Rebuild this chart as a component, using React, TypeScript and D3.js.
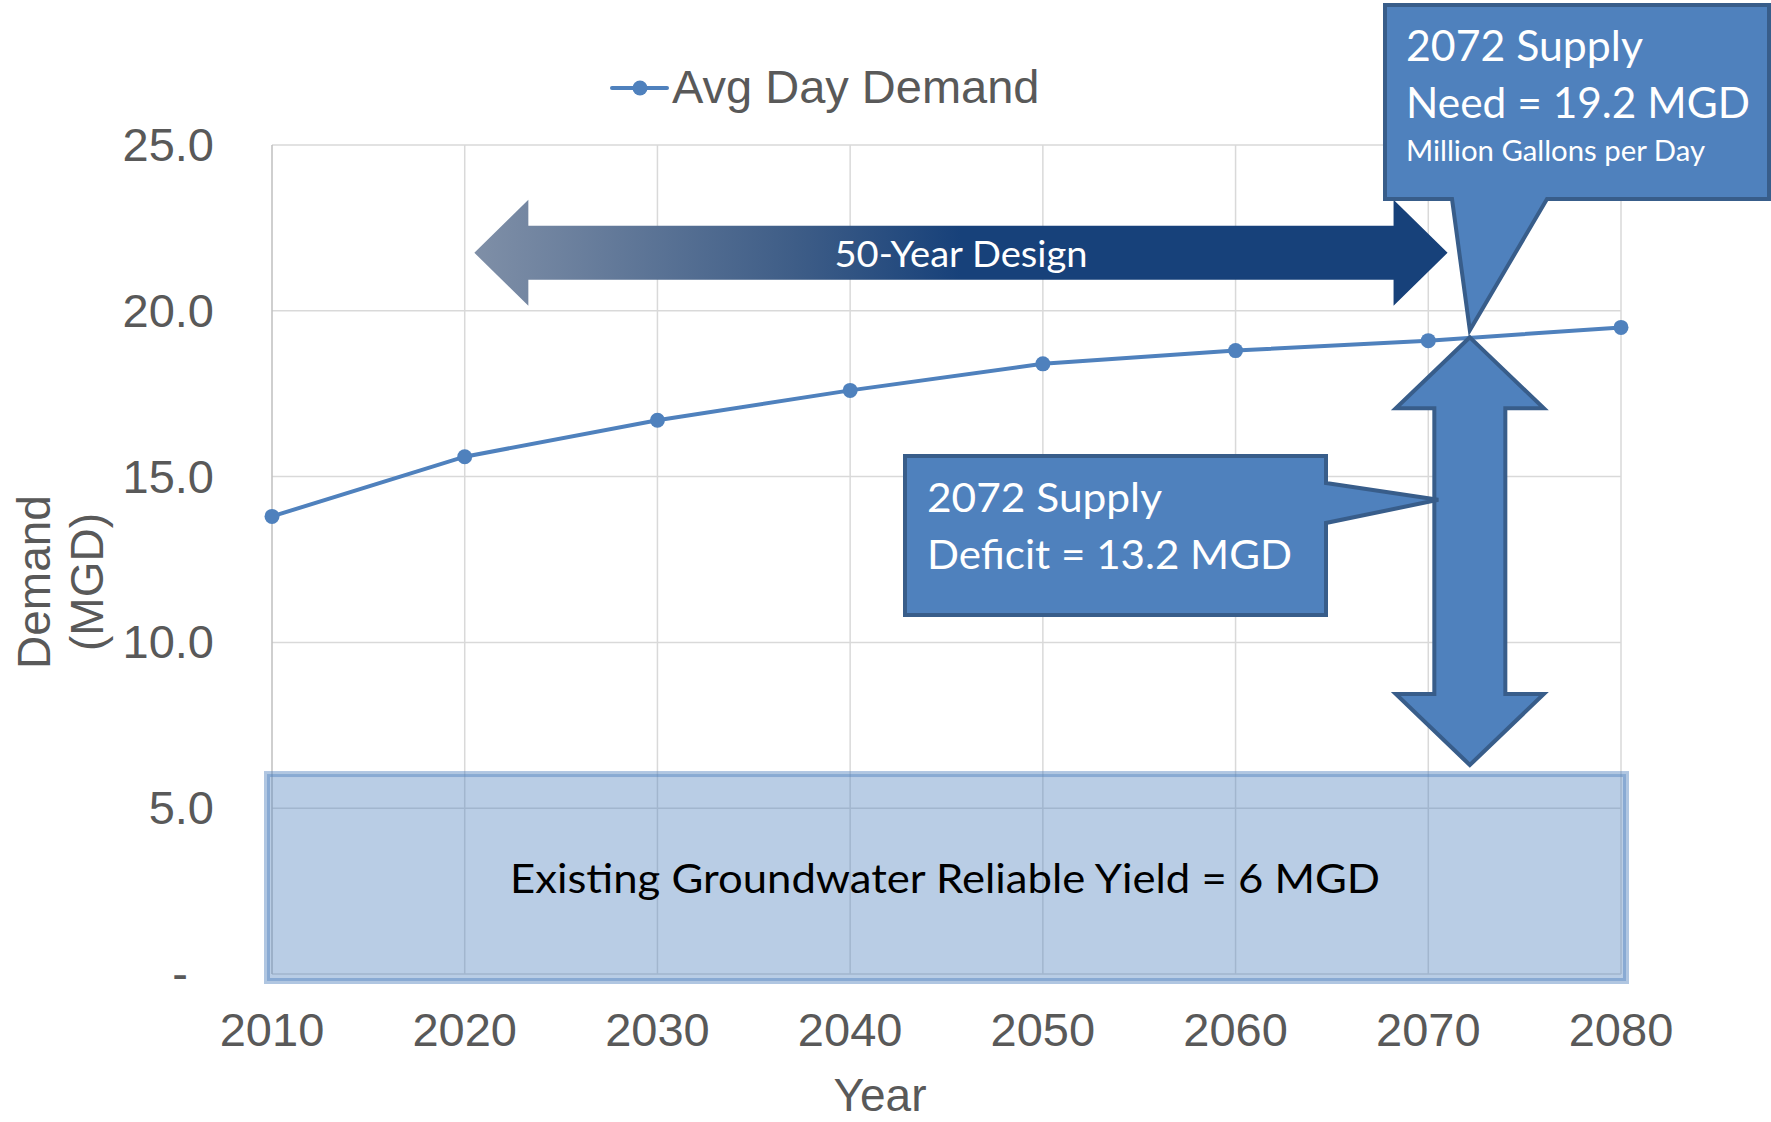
import React, { useEffect, useRef } from "react";
import * as d3 from "d3";

// chart data
const years: number[] = [2010, 2020, 2030, 2040, 2050, 2060, 2070, 2080];
const avgDayDemand: number[] = [13.8, 15.6, 16.7, 17.6, 18.4, 18.8, 19.1, 19.5];
const yTicks: number[] = [0, 5, 10, 15, 20, 25];
const yTickLabels: string[] = ["-", "5.0", "10.0", "15.0", "20.0", "25.0"];

// annotations
const groundwaterYield = 6;
const designSpan: number[] = [2020.5, 2071];
const designLevel = 21.75;
const supplyYear = 2072;
const supplyNeed = 19.2;
const deficitPointerLevel = 14.3;

const width = 1771;
const height = 1122;
const axisFont = "'Liberation Sans', Arial, sans-serif";
const noteFont = "Lato, 'Open Sans', sans-serif";
const blue = "#4f81bd";
const blueEdge = "#385d8a";

const App = () => {
  const ref = useRef<any>(null);

  useEffect(() => {
    document.body.style.margin = "0";
    var svg = d3.select(ref.current);
    svg.selectAll("*").remove();

    var x = d3.scaleLinear().domain([2010, 2080]).range([272, 1621]);
    var y = d3.scaleLinear().domain([0, 25]).range([974, 145]);

    var defs = svg.append("defs");
    var grad = defs
      .append("linearGradient")
      .attr("id", "designGrad")
      .attr("x1", "0%")
      .attr("x2", "100%");
    grad.append("stop").attr("offset", "0%").attr("stop-color", "#7f8fa7");
    grad.append("stop").attr("offset", "33%").attr("stop-color", "#3e5d87");
    grad.append("stop").attr("offset", "50%").attr("stop-color", "#17417a");
    grad.append("stop").attr("offset", "100%").attr("stop-color", "#17417a");

    // gridlines
    svg
      .selectAll(".hgrid")
      .data(yTicks)
      .enter()
      .append("line")
      .attr("x1", x(2010))
      .attr("x2", x(2080))
      .attr("y1", (d) => y(d))
      .attr("y2", (d) => y(d))
      .style("stroke", "#d9d9d9")
      .style("stroke-width", 1.5);

    svg
      .selectAll(".vgrid")
      .data(years)
      .enter()
      .append("line")
      .attr("x1", (d) => x(d))
      .attr("x2", (d) => x(d))
      .attr("y1", y(25))
      .attr("y2", y(0))
      .style("stroke", (d, i) => (i === 0 ? "#bfbfbf" : "#d9d9d9"))
      .style("stroke-width", 1.5);

    // tick labels
    svg
      .selectAll(".ylab")
      .data(yTicks)
      .enter()
      .append("text")
      .attr("x", (d) => (d === 0 ? 188 : 214))
      .attr("y", (d) => y(d) + 16)
      .attr("text-anchor", "end")
      .style("font-family", axisFont)
      .style("font-size", "47px")
      .style("fill", "#595959")
      .text((d, i) => yTickLabels[i]);

    svg
      .selectAll(".xlab")
      .data(years)
      .enter()
      .append("text")
      .attr("x", (d) => x(d))
      .attr("y", 1046)
      .attr("text-anchor", "middle")
      .style("font-family", axisFont)
      .style("font-size", "47px")
      .style("fill", "#595959")
      .text((d) => String(d));

    // axis titles
    svg
      .append("text")
      .attr("x", 880)
      .attr("y", 1111)
      .attr("text-anchor", "middle")
      .style("font-family", axisFont)
      .style("font-size", "46px")
      .style("fill", "#595959")
      .text("Year");

    var yTitle = svg
      .append("text")
      .attr("transform", "translate(50,582) rotate(-90)")
      .attr("text-anchor", "middle")
      .style("font-family", axisFont)
      .style("font-size", "46px")
      .style("fill", "#595959");
    yTitle.append("tspan").attr("x", 0).attr("y", 0).text("Demand");
    yTitle.append("tspan").attr("x", 0).attr("y", 53).text("(MGD)");

    // legend
    svg
      .append("line")
      .attr("x1", 612)
      .attr("x2", 667)
      .attr("y1", 88)
      .attr("y2", 88)
      .style("stroke", blue)
      .style("stroke-width", 4)
      .style("stroke-linecap", "round");
    svg.append("circle").attr("cx", 640).attr("cy", 88).attr("r", 7.5).style("fill", blue);
    svg
      .append("text")
      .attr("x", 672)
      .attr("y", 103)
      .style("font-family", axisFont)
      .style("font-size", "47px")
      .style("fill", "#595959")
      .text("Avg Day Demand");

    // groundwater yield box
    svg
      .append("rect")
      .attr("x", x(2010) - 5)
      .attr("y", y(groundwaterYield) - 1)
      .attr("width", x(2080) - x(2010) + 10)
      .attr("height", y(0) - y(groundwaterYield) + 8)
      .style("fill", "rgba(79,129,189,0.4)")
      .style("stroke", "rgba(79,129,189,0.45)")
      .style("stroke-width", 6);
    svg
      .append("text")
      .attr("x", 945)
      .attr("y", 893)
      .attr("text-anchor", "middle")
      .attr("textLength", 870)
      .attr("lengthAdjust", "spacingAndGlyphs")
      .style("font-family", noteFont)
      .style("font-size", "41px")
      .style("fill", "#000")
      .text("Existing Groundwater Reliable Yield = 6 MGD");

    // demand line
    var line = d3
      .line<number>()
      .x((d, i) => x(years[i]))
      .y((d) => y(d));
    svg
      .append("path")
      .datum(avgDayDemand)
      .attr("d", line)
      .style("fill", "none")
      .style("stroke", blue)
      .style("stroke-width", 4);
    svg
      .selectAll(".pt")
      .data(avgDayDemand)
      .enter()
      .append("circle")
      .attr("cx", (d, i) => x(years[i]))
      .attr("cy", (d) => y(d))
      .attr("r", 7.5)
      .style("fill", blue);

    // 50-year design arrow
    var ax0 = x(designSpan[0]);
    var ax1 = x(designSpan[1]);
    var ay = y(designLevel);
    var head = 54;
    var shaft = 27;
    var wing = 53;
    var arrowPts: [number, number][] = [
      [ax0, ay],
      [ax0 + head, ay - wing],
      [ax0 + head, ay - shaft],
      [ax1 - head, ay - shaft],
      [ax1 - head, ay - wing],
      [ax1, ay],
      [ax1 - head, ay + wing],
      [ax1 - head, ay + shaft],
      [ax0 + head, ay + shaft],
      [ax0 + head, ay + wing],
    ];
    svg
      .append("polygon")
      .attr("points", arrowPts.map((p) => p.join(",")).join(" "))
      .style("fill", "url(#designGrad)");
    svg
      .append("text")
      .attr("x", 961)
      .attr("y", 267)
      .attr("text-anchor", "middle")
      .attr("textLength", 253)
      .attr("lengthAdjust", "spacingAndGlyphs")
      .style("font-family", noteFont)
      .style("font-size", "37px")
      .style("fill", "#fff")
      .text("50-Year Design");

    // vertical deficit arrow
    var vx = x(supplyYear) + 3;
    var vTop = y(supplyNeed);
    var vBot = y(groundwaterYield) - 10;
    var vHead = 71;
    var vShaft = 35.5;
    var vWing = 74;
    var vPts: [number, number][] = [
      [vx, vTop],
      [vx + vWing, vTop + vHead],
      [vx + vShaft, vTop + vHead],
      [vx + vShaft, vBot - vHead],
      [vx + vWing, vBot - vHead],
      [vx, vBot],
      [vx - vWing, vBot - vHead],
      [vx - vShaft, vBot - vHead],
      [vx - vShaft, vTop + vHead],
      [vx - vWing, vTop + vHead],
    ];
    svg
      .append("polygon")
      .attr("points", vPts.map((p) => p.join(",")).join(" "))
      .style("fill", blue)
      .style("stroke", blueEdge)
      .style("stroke-width", 4)
      .style("stroke-linejoin", "miter");

    // deficit callout
    var dTipY = y(deficitPointerLevel);
    var dPts: [number, number][] = [
      [905, 456],
      [1326, 456],
      [1326, 483],
      [vx - vShaft + 4, dTipY],
      [1326, 523],
      [1326, 615],
      [905, 615],
    ];
    svg
      .append("polygon")
      .attr("points", dPts.map((p) => p.join(",")).join(" "))
      .style("fill", blue)
      .style("stroke", blueEdge)
      .style("stroke-width", 4);
    var dText = svg
      .append("text")
      .style("font-family", noteFont)
      .style("font-size", "41px")
      .style("fill", "#fff");
    dText
      .append("tspan")
      .attr("x", 927)
      .attr("y", 512)
      .attr("textLength", 235)
      .attr("lengthAdjust", "spacingAndGlyphs")
      .text("2072 Supply");
    dText
      .append("tspan")
      .attr("x", 927)
      .attr("y", 569)
      .attr("textLength", 365)
      .attr("lengthAdjust", "spacingAndGlyphs")
      .text("Deficit = 13.2 MGD");

    // need callout
    var nPts: [number, number][] = [
      [1385, 5],
      [1769, 5],
      [1769, 199],
      [1547, 199],
      [vx, vTop - 7],
      [1452, 199],
      [1385, 199],
    ];
    svg
      .append("polygon")
      .attr("points", nPts.map((p) => p.join(",")).join(" "))
      .style("fill", blue)
      .style("stroke", blueEdge)
      .style("stroke-width", 4);
    var nText = svg
      .append("text")
      .style("font-family", noteFont)
      .style("fill", "#fff");
    nText
      .append("tspan")
      .attr("x", 1406)
      .attr("y", 61)
      .attr("textLength", 237)
      .attr("lengthAdjust", "spacingAndGlyphs")
      .style("font-size", "42px")
      .text("2072 Supply");
    nText
      .append("tspan")
      .attr("x", 1406)
      .attr("y", 118)
      .attr("textLength", 344)
      .attr("lengthAdjust", "spacingAndGlyphs")
      .style("font-size", "42px")
      .text("Need = 19.2 MGD");
    nText
      .append("tspan")
      .attr("x", 1406)
      .attr("y", 161)
      .attr("textLength", 299)
      .attr("lengthAdjust", "spacingAndGlyphs")
      .style("font-size", "28px")
      .text("Million Gallons per Day");
  }, []);

  return (
    <svg
      ref={ref}
      width={width}
      height={height}
      style={{ display: "block", background: "#fff" }}
    ></svg>
  );
};

export default App;
